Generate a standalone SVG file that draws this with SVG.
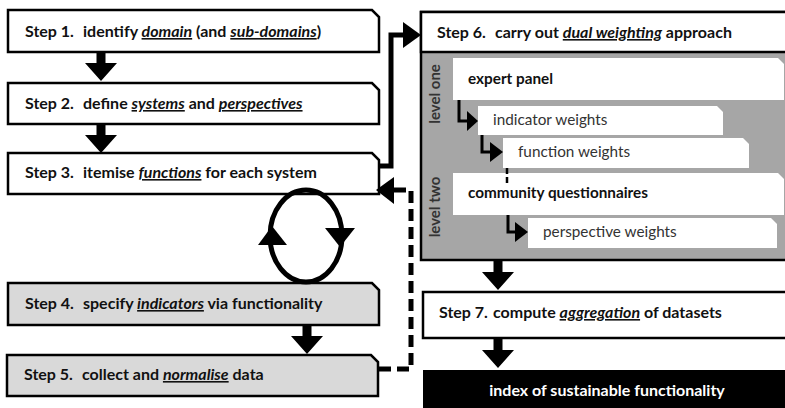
<svg xmlns="http://www.w3.org/2000/svg" width="785" height="408" viewBox="0 0 785 408">
<style>
.box{stroke:#000;stroke-width:2.5;stroke-linejoin:miter}
.w{fill:#fff}
.g{fill:#d9d9d9}
.t{font-family:Lato,"Liberation Sans",sans-serif;font-size:16px;font-weight:bold;fill:#111}
.em{font-style:italic;text-decoration:underline}
.s{font-family:Lato,"Liberation Sans",sans-serif;font-size:15.3px;fill:#333}
.sb{font-family:Lato,"Liberation Sans",sans-serif;font-size:15.3px;font-weight:bold;fill:#111}
.lv{font-family:Lato,"Liberation Sans",sans-serif;font-size:15px;font-weight:bold;fill:#333}
.inner{fill:#fff}
.ln{fill:none;stroke:#000;stroke-width:5}
.el{fill:none;stroke:#000;stroke-width:3}
.dash{fill:none;stroke:#000;stroke-width:5;stroke-dasharray:12 6}
</style>
<g id="step1">
<path class="box w" d="M8 10H372L379 17V52H8Z"/>
<text class="t" x="25" y="37">Step 1.<tspan x="83">identify </tspan><tspan class="em">domain</tspan> (and <tspan class="em">sub-domains</tspan>)</text>
</g>
<g id="step2">
<path class="box w" d="M8 83H372L379 90V124H8Z"/>
<text class="t" x="25" y="109">Step 2.<tspan x="83">define </tspan><tspan class="em">systems</tspan> and <tspan class="em">perspectives</tspan></text>
</g>
<g id="step3">
<path class="box w" d="M8 153H372L379 160V194H8Z"/>
<text class="t" x="25" y="178">Step 3.<tspan x="83">itemise </tspan><tspan class="em">functions</tspan> for each system</text>
</g>
<g id="step4">
<path class="box g" d="M8 283H372L379 290V325H8Z"/>
<text class="t" x="25" y="309">Step 4.<tspan x="83">specify </tspan><tspan class="em">indicators</tspan> via functionality</text>
</g>
<g id="step5">
<path class="box g" d="M7 355H371L378 362V396H7Z"/>
<text class="t" x="24" y="380">Step 5.<tspan x="82">collect and </tspan><tspan class="em">normalise</tspan> data</text>
</g>
<g id="step6">
<rect class="box" x="421" y="12" width="372" height="248" fill="#a6a6a6"/>
<rect class="box w" x="421" y="12" width="372" height="40"/>
<text class="t" x="437" y="38">Step 6.<tspan x="495">carry out </tspan><tspan class="em">dual weighting</tspan> approach</text>
<text class="lv" text-anchor="middle" transform="translate(440,94) rotate(-90)">level one</text>
<text class="lv" text-anchor="middle" transform="translate(440,207) rotate(-90)">level two</text>
<g id="expert">
<path class="inner" d="M453 58H778L784 64V100H453Z"/>
<text class="sb" x="468" y="84">expert panel</text>
</g>
<g id="indicator">
<path class="inner" d="M478 106H717L723 112V135H478Z"/>
<text class="s" x="493" y="125">indicator weights</text>
</g>
<g id="function">
<path class="inner" d="M503 138H743L749 144V168H503Z"/>
<text class="s" x="518" y="157">function weights</text>
</g>
<g id="community">
<path class="inner" d="M453 173H778L784 179V215H453Z"/>
<text class="sb" x="468" y="198">community questionnaires</text>
</g>
<g id="perspective">
<path class="inner" d="M528 218H771L777 224V248H528Z"/>
<text class="s" x="543" y="237">perspective weights</text>
</g>
</g>
<g id="step7">
<rect class="box w" x="423" y="292" width="370" height="46"/>
<text class="t" x="439" y="318">Step 7.<tspan x="493">compute </tspan><tspan class="em">aggregation</tspan> of datasets</text>
</g>
<g id="index">
<rect x="423" y="370" width="370" height="40" fill="#000"/>
<text class="t" x="607" y="396" text-anchor="middle" style="fill:#fff">index of sustainable functionality</text>
</g>
<g id="connectors">
<path d="M96.5 52H105.5V63H117L101 81L85 63H96.5Z"/>
<path d="M96.5 124H105.5V135H117L101 153L85 135H96.5Z"/>
<path d="M302.5 325H311.5V336H323L307 354L291 336H302.5Z"/>
<path d="M493.5 260H502.5V272H514L498 290L482 272H493.5Z"/>
<path d="M493.5 338H502.5V350H514L498 368L482 350H493.5Z"/>
<path class="ln" d="M378 166H391V35H404"/>
<polygon points="403,22 421,35 403,48"/>
<path class="dash" d="M379 369H411V190H394"/>
<polygon points="394,177 376,190 394,204"/>
<ellipse class="ln" cx="306" cy="236" rx="36" ry="46"/>
<polygon points="258,245 287,245 272,226"/>
<polygon points="325,228 355,228 340,247"/>
<path class="el" d="M459 100V121H468"/>
<polygon points="467,111 478,121 467,131"/>
<path class="el" d="M482 135V152H491"/>
<polygon points="490,142 503,152 490,162"/>
<path class="el" d="M508 215V232H516"/>
<polygon points="515,222 528,232 515,242"/>
<path fill="none" stroke="#000" stroke-width="2.5" stroke-dasharray="6 3" d="M507 168V186"/>
</g>
</svg>
